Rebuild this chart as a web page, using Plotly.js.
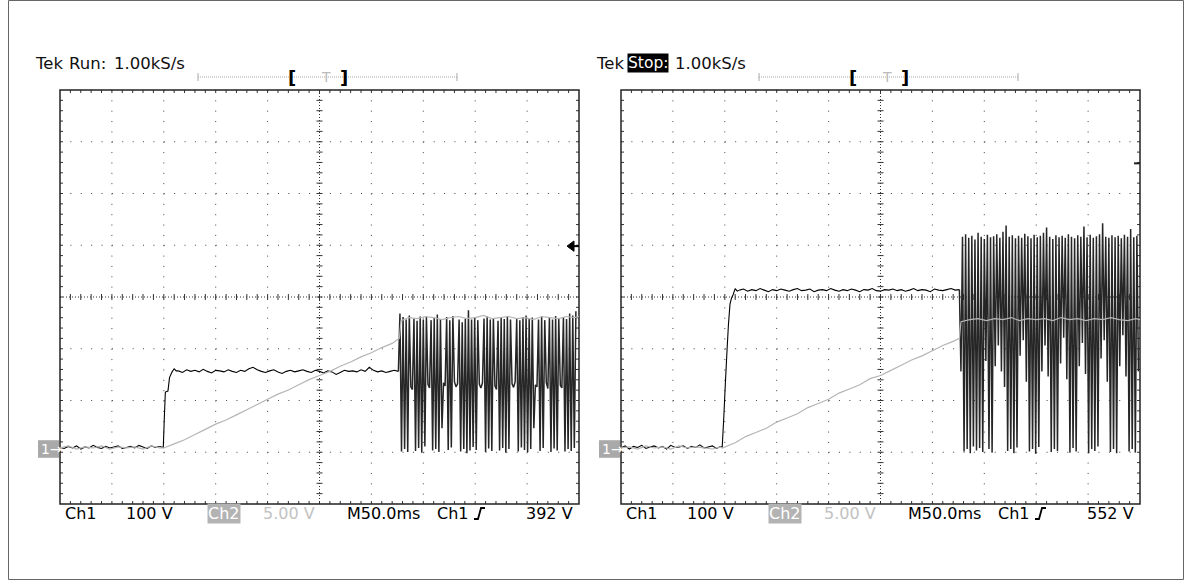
<!DOCTYPE html>
<html><head><meta charset="utf-8">
<script src="https://cdn.plot.ly/plotly-3.0.1.min.js"></script>
<style>html,body{margin:0;padding:0;background:#fff}#chart{width:1184px;height:580px}</style>
</head><body><div id="chart"></div>
<script>
// ===== DATA (read from the two scope screens) =====
// Left screen "Run", Ch1 in volts (100 V/div), time in ms (50 ms/div)
const L_ch1_base = [3,1,5,2,6,0,4,2,7,3,1,5,2,4,6,1,3,5,2,7,4,1,6,3,5];          // from 0 ms, every 4 ms
const L_ch1_edge_t = [96,99.5,100.5,101.5,104,105.5,108,110,112,114];
const L_ch1_edge_v = [5,3,60,110,112,138,149,155,151,151];
const L_ch1_flat = [151,148,153,150,152,149,154,150,147,152,151,149,153,150,148,152,150,155,158,153,
  150,148,151,153,149,146,150,152,149,151,153,150,148,152,150,147,151,149,144,148,
  152,150,151,149,153,150,158,152,149,151,148,150,152,150];                     // from 114 ms, every 4 ms
const L_ch1_burst = [150,262,-5,255,0,250,-6,258,120,115,252,-4,248,2,256,-7,250,5,255,125,118,
  249,-3,253,0,260,-6,251,40,128,122,255,-2,249,3,257,130,120,126,250,-5,
  245,0,252,-8,268,-3,250,4,254,-2,249,125,118,128,252,-6,256,1,250,-4,
  253,122,115,248,-3,255,2,251,-7,257,0,250,126,119,130,252,-5,249,3,255,
  -2,258,-6,251,0,254,40,124,120,250,-4,256,2,249,128,117,253,-6,250,1,
  257,-3,252,123,118,255,-5,251,0,262,-4,258,2,266];                            // from 326 ms, every 1.5 ms
// Left screen Ch2 in volts (5 V/div)
const L_ch2_t = [0,8,16,24,32,40,48,56,64,72,80,88,96,100,110,120,130,140,150,160,170,180,190,200,
  210,220,230,240,250,260,270,280,290,300,310,320,327,328.5,336,344,352,360,368,376,384,392,400,
  408,416,424,432,440,448,456,464,472,480,488,496,500];
const L_ch2_v = [0.1,0.3,0.0,0.2,0.1,0.3,0.0,0.2,0.1,0.2,0.0,0.3,0.1,0.1,0.5,0.9,1.4,1.9,2.4,2.8,
  3.3,3.8,4.3,4.8,5.3,5.7,6.2,6.7,7.1,7.5,8.0,8.4,8.9,9.3,9.8,10.2,10.7,12.4,12.7,12.6,12.8,12.7,
  12.5,12.7,12.8,12.6,12.7,12.9,12.6,12.7,12.8,12.6,12.7,12.5,12.8,12.7,12.6,12.8,12.7,12.8];

// Right screen "Stop", Ch1 in volts
const R_ch1_base = [2,6,0,5,3,7,1,4,6,2,5,0,7,3,4,6,1,5,3,8,2,4,6,1,5];           // from 0 ms, every 4 ms
const R_ch1_edge_t = [96,97.5,99,100.5,102,103.5,105,106.5,108,110,112,114];
const R_ch1_edge_v = [5,4,60,125,185,240,280,292,298,310,305,307];
const R_ch1_flat = [307,309,305,308,306,310,307,304,308,306,309,307,305,308,310,306,307,309,304,307,
  308,306,310,307,305,308,306,309,307,304,308,307,310,306,305,308,307,309,306,308,
  305,307,310,306,308,307,304,309,307,306,308,310,307,308];                     // from 114 ms, every 4 ms
const R_ch1_burst = [308,150,410,-5,415,0,408,-8,412,5,405,-3,418,2,410,-6,406,170,414,0,409,-7,
  411,160,415,200,408,150,420,120,432,-4,410,0,413,-8,407,3,412,180,408,210,
  416,130,411,-5,407,0,414,-9,409,4,412,150,418,200,428,140,410,-6,406,0,
  413,-4,409,165,412,215,408,135,415,-7,410,2,407,-5,413,160,410,205,430,145,
  409,-8,414,0,408,-4,411,5,415,175,436,210,410,130,408,-6,413,0,409,-8,
  412,160,407,220,414,140,410,-5,425,0,409,-7,412,150];                         // from 326 ms, every 1.5 ms
// Right screen Ch2 in volts
const R_ch2_t = [0,8,16,24,32,40,48,56,64,72,80,88,96,97.5,110,120,130,140,150,160,170,180,190,200,
  210,220,230,240,250,260,270,280,290,300,310,320,326,327.5,336,344,352,360,368,376,384,392,400,
  408,416,424,432,440,448,456,464,472,480,488,496,500];
const R_ch2_v = [0.1,0.2,0.0,0.3,0.1,0.2,0.0,0.3,0.1,0.2,0.1,0.0,0.2,0.1,0.6,1.2,1.6,2.0,2.6,3.0,
  3.4,4.0,4.4,4.8,5.4,5.8,6.2,6.8,7.1,7.6,8.1,8.6,9.0,9.5,10.0,10.4,10.7,12.3,12.5,12.6,12.4,12.6,
  12.5,12.7,12.4,12.6,12.5,12.6,12.4,12.7,12.5,12.6,12.4,12.6,12.5,12.7,12.5,12.4,12.6,12.5];

// Readouts
const modes = ['Run:', 'Stop:'];
const sampleRate = '1.00kS/s';
const ch1Scale = '100 V', ch2Scale = '5.00 V', timeBase = 'M50.0ms';
const trigLevels = [392, 552];       // V
const trigLabels = ['392 V', '552 V'];

// ===== LAYOUT GEOMETRY =====
const W = 1184, H = 580;
const PX = x => x / W, PY = y => 1 - y / H;
const TOP = 90, BOT = 504, BW = 519;
const LEFTS = [60, 621];
const FONT = 'DejaVu Sans';

const shapes = [], annotations = [];
function seg(p, x0, y0, x1, y1) { return p + `M${PX(x0)},${PY(y0)}L${PX(x1)},${PY(y1)}`; }

function drawPanel(L, idx) {
  const R = L + BW, dw = BW / 10, dh = (BOT - TOP) / 8;
  const ln = (x0, y0, x1, y1, st) => shapes.push({type:'line', xref:'paper', yref:'paper', layer:'below',
    x0:PX(x0), y0:PY(y0), x1:PX(x1), y1:PY(y1), line:st});
  for (let k = 1; k < 10; k++) if (k !== 5) {
    const x = L + k * dw; ln(x, TOP, x, BOT, {color:'#444', width:1, dash:`1px,${(dh/5-1).toFixed(2)}px`});
  }
  for (let k = 1; k < 8; k++) if (k !== 4) {
    const y = TOP + k * dh; ln(L, y, R, y, {color:'#444', width:1, dash:`1px,${(dw/5-1).toFixed(2)}px`});
  }
  const cx = L + 5 * dw, cy = TOP + 4 * dh;
  ln(cx, TOP, cx, BOT, {color:'#333', width:1, dash:'1px,2px'});
  ln(L, cy, R, cy, {color:'#333', width:1, dash:'1px,2px'});
  let p = '';
  for (let i = 1; i < 50; i++) {
    const x = L + i * dw / 5;
    p = seg(p, x, cy - 3, x, cy + 3); p = seg(p, x, TOP, x, TOP + 3); p = seg(p, x, BOT - 3, x, BOT);
  }
  for (let i = 1; i < 40; i++) {
    const y = TOP + i * dh / 5;
    p = seg(p, cx - 3, y, cx + 3, y); p = seg(p, L, y, L + 3, y); p = seg(p, R - 3, y, R, y);
  }
  shapes.push({type:'path', xref:'paper', yref:'paper', layer:'below', path:p, line:{color:'#333', width:1}});
  shapes.push({type:'rect', xref:'paper', yref:'paper', layer:'below',
    x0:PX(L), x1:PX(R), y0:PY(BOT), y1:PY(TOP), line:{color:'#222', width:1.5}});

  // record bar with trigger position
  shapes.push({type:'line', xref:'paper', yref:'paper', x0:PX(L+138), x1:PX(L+397), y0:PY(77), y1:PY(77),
    line:{color:'#aaa', width:1, dash:'1px,1px'}});
  shapes.push({type:'line', xref:'paper', yref:'paper', x0:PX(L+138), x1:PX(L+138), y0:PY(73), y1:PY(81), line:{color:'#aaa', width:1}});
  shapes.push({type:'line', xref:'paper', yref:'paper', x0:PX(L+397), x1:PX(L+397), y0:PY(73), y1:PY(81), line:{color:'#aaa', width:1}});
  const ann = (x, y, text, o) => annotations.push(Object.assign({xref:'paper', yref:'paper', x:PX(x), y:PY(y),
    text, showarrow:false, xanchor:'left', yanchor:'middle', font:{family:FONT, size:16.5, color:'#111'}}, o || {}));
  ann(L + 232, 77, '<b>[</b>', {font:{family:FONT, size:18, color:'#000'}, xanchor:'center'});
  ann(L + 266, 77, 'T', {font:{family:FONT, size:14, color:'#bbb'}, xanchor:'center'});
  ann(L + 284, 77, '<b>]</b>', {font:{family:FONT, size:18, color:'#000'}, xanchor:'center'});

  // header
  ann(L - 27, 63, 'Tek');
  if (idx === 1) ann(L + 6, 63, modes[idx], {bgcolor:'#000', font:{family:FONT, size:15.5, color:'#fff'}, borderpad:0});
  else ann(L + 7, 63, modes[idx]);
  ann(L + 52, 63, sampleRate);

  // footer
  const fy = 513;
  const ff = (c) => ({family:FONT, size:16, color:c || '#000'});
  ann(L + 3, fy, 'Ch1', {font:ff()});
  ann(L + 64, fy, ch1Scale, {font:ff()});
  ann(L + 147, fy, 'Ch2', {bgcolor:'#b3b3b3', font:ff('#fff'), borderpad:0});
  ann(L + 201, fy, ch2Scale, {font:ff('#c2c2c2')});
  ann(L + 285, fy, timeBase, {font:ff()});
  ann(L + 375, fy, 'Ch1', {font:ff()});
  ann(L + 515, fy, trigLabels[idx], {xanchor:'right', font:ff()});
  shapes.push({type:'path', xref:'paper', yref:'paper',
    path:`M${PX(L+414)},${PY(519)}L${PX(L+418)},${PY(519)}L${PX(L+421)},${PY(508)}L${PX(L+425)},${PY(508)}`,
    line:{color:'#000', width:1.8}});

  // ground marker (Ch1 0 V)
  const ya = idx === 0 ? 'y' : 'y3';
  shapes.push({type:'rect', xref:'paper', yref:ya, x0:PX(L-22), x1:PX(L-1), y0:-17, y1:17,
    fillcolor:'#a9a9a9', line:{width:0}, layer:'below'});
  annotations.push({xref:'paper', yref:ya, x:PX(L-21), y:0, text:'1→', showarrow:false,
    xanchor:'left', yanchor:'middle', font:{family:FONT, size:14, color:'#fff'}});

  // trigger level marker
  const tl = trigLevels[idx];
  if (idx === 0) {
    shapes.push({type:'path', xref:'paper', yref:ya,
      path:`M${PX(R-12)},${tl}L${PX(R-5)},${tl+10}L${PX(R-5)},${tl-10}Z`, fillcolor:'#000', line:{color:'#000', width:1}});
    shapes.push({type:'line', xref:'paper', yref:ya, x0:PX(R-6), x1:PX(R), y0:tl, y1:tl, line:{color:'#000', width:2}});
  } else {
    shapes.push({type:'line', xref:'paper', yref:ya, x0:PX(R-6), x1:PX(R), y0:tl, y1:tl, line:{color:'#222', width:2}});
  }
}
LEFTS.forEach(drawPanel);

// outer frame of the picture
shapes.push({type:'rect', xref:'paper', yref:'paper', x0:PX(8.5), x1:PX(1183.5), y0:PY(579.5), y1:PY(0.5),
  line:{color:'#666', width:1}, layer:'below'});

// ===== TRACES =====
const black = {color:'#000', width:1.1, simplify:false};
const blackB = {color:'#262626', width:1.5, simplify:false};
const gray = {color:'#b5b5b5', width:1.2, simplify:false};
function ch1Traces(xa, ya, base, et, ev, flat, burst) {
  return [
    {x0:0, dx:4, y:base, xaxis:xa, yaxis:ya, mode:'lines', line:black},
    {x:et, y:ev, xaxis:xa, yaxis:ya, mode:'lines', line:black},
    {x0:114, dx:4, y:flat, xaxis:xa, yaxis:ya, mode:'lines', line:black},
    {x0:326, dx:1.5, y:burst, xaxis:xa, yaxis:ya, mode:'lines', line:blackB}
  ];
}
const data = [
  ...ch1Traces('x', 'y', L_ch1_base, L_ch1_edge_t, L_ch1_edge_v, L_ch1_flat, L_ch1_burst),
  {x:L_ch2_t, y:L_ch2_v, xaxis:'x', yaxis:'y2', mode:'lines', line:gray},
  ...ch1Traces('x2', 'y3', R_ch1_base, R_ch1_edge_t, R_ch1_edge_v, R_ch1_flat, R_ch1_burst),
  {x:R_ch2_t, y:R_ch2_v, xaxis:'x2', yaxis:'y4', mode:'lines', line:gray}
];

const yDom = [1 - BOT / H, 1 - TOP / H];
const v1 = [-(BOT - 449) / ((BOT - TOP) / 8) * 100, 0];
v1[1] = v1[0] + 800;
const hid = {visible:false, fixedrange:true, showgrid:false, zeroline:false};
const layout = {
  width:W, height:H, margin:{l:0, r:0, t:0, b:0},
  paper_bgcolor:'#fff', plot_bgcolor:'rgba(0,0,0,0)', showlegend:false, hovermode:false,
  xaxis:Object.assign({domain:[PX(60), PX(60 + BW)], range:[0, 500], anchor:'y'}, hid),
  yaxis:Object.assign({domain:yDom, range:v1, anchor:'x'}, hid),
  yaxis2:Object.assign({range:[v1[0] / 20, v1[1] / 20], overlaying:'y', anchor:'x'}, hid),
  xaxis2:Object.assign({domain:[PX(621), PX(621 + BW)], range:[0, 500], anchor:'y3'}, hid),
  yaxis3:Object.assign({domain:yDom, range:v1, anchor:'x2'}, hid),
  yaxis4:Object.assign({range:[v1[0] / 20, v1[1] / 20], overlaying:'y3', anchor:'x2'}, hid),
  shapes, annotations
};
Plotly.newPlot('chart', data, layout, {staticPlot:true, displayModeBar:false});
</script></body></html>
